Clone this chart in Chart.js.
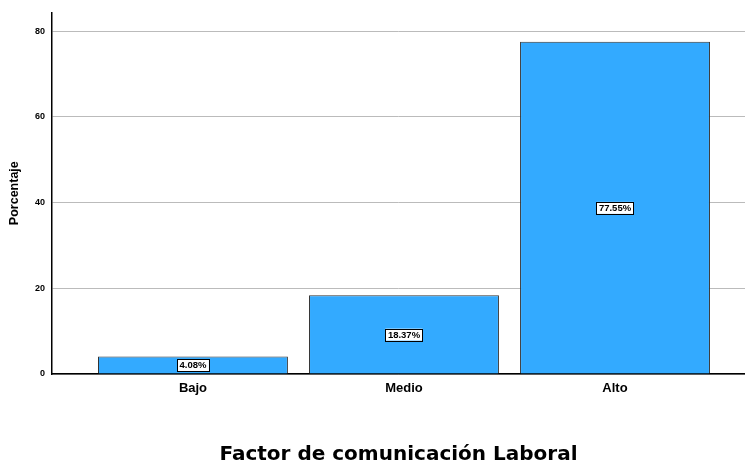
<!DOCTYPE html>
<html>
<head>
<meta charset="utf-8">
<script src="https://cdn.jsdelivr.net/npm/chart.js@4"></script>
<style>
  html, body { margin: 0; padding: 0; background: #fff; }
  #wrap { width: 745px; height: 467px; }
</style>
</head>
<body>
<div id="wrap"><canvas id="barChart" width="745" height="467"></canvas></div>
<script>
const categories = ['Bajo', 'Medio', 'Alto'];
const percentages = [4.08, 18.37, 77.55];
const yTicks = [0, 20, 40, 60, 80];

const barColor = '#33aaff';

// white boxed labels in the middle of each bar
const valueBoxes = {
    id: 'valueBoxes',
    afterDatasetsDraw(chart) {
        const ctx = chart.ctx;
        const yScale = chart.scales.y;
        const meta = chart.getDatasetMeta(0);
        ctx.save();
        ctx.font = 'bold 9.5px "Liberation Sans", Arial, sans-serif';
        ctx.textAlign = 'center';
        ctx.textBaseline = 'middle';
        meta.data.forEach((bar, i) => {
            const v = percentages[i];
            const text = v.toFixed(2) + '%';
            const cx = bar.x;
            const cy = yScale.getPixelForValue(v / 2);
            const w = ctx.measureText(text).width + 5;
            const h = 12;
            ctx.fillStyle = '#fff';
            ctx.fillRect(cx - w / 2, cy - h / 2, w, h);
            ctx.strokeStyle = '#000';
            ctx.lineWidth = 1;
            ctx.strokeRect(Math.round(cx - w / 2) + 0.5, Math.round(cy - h / 2) + 0.5, Math.round(w), h);
            ctx.fillStyle = '#000';
            ctx.fillText(text, cx, cy + 0.5);
        });
        ctx.restore();
    }
};

const ctx = document.getElementById('barChart').getContext('2d');
new Chart(ctx, {
    type: 'bar',
    data: {
        datasets: [{
            data: percentages.map((v, i) => ({ x: i + 1, y: v })),
            backgroundColor: barColor,
            borderColor: '#333',
            borderWidth: 1,
            categoryPercentage: 1,
            barPercentage: 0.9
        }]
    },
    options: {
        responsive: false,
        animation: false,
        layout: { padding: { top: 12, right: 0, left: 0, bottom: 0 } },
        plugins: {
            legend: { display: false },
            tooltip: { enabled: false }
        },
        scales: {
            x: {
                type: 'linear',
                offset: false,
                min: 0.332,
                max: 3.616,
                afterBuildTicks: scale => {
                    scale.ticks = categories.map((c, i) => ({ value: i + 1 }));
                },
                afterFit: scale => { scale.height = 93; },
                ticks: {
                    callback: (v) => categories[v - 1] || '',
                    color: '#000',
                    padding: 7,
                    font: { family: '"Liberation Sans", Arial, sans-serif', size: 13, weight: 'bold' },
                    maxRotation: 0,
                    autoSkip: false
                },
                grid: { display: false, drawTicks: false },
                border: { color: '#000', width: 1.5 },
                title: {
                    display: true,
                    text: 'Factor de comunicación Laboral',
                    color: '#000',
                    font: { family: '"DejaVu Sans", Tahoma, sans-serif', size: 20, weight: 'bold' },
                    padding: { top: 0, bottom: 0 }
                }
            },
            y: {
                min: 0,
                max: 84.4,
                afterBuildTicks: scale => {
                    scale.ticks = yTicks.map(v => ({ value: v }));
                },
                afterFit: scale => { scale.width = 52; },
                ticks: {
                    color: '#000',
                    padding: 7,
                    font: { family: '"Liberation Sans", Arial, sans-serif', size: 9, weight: 'bold' }
                },
                grid: { color: '#bbbbbb', drawTicks: false },
                border: { color: '#000', width: 1.5 },
                title: {
                    display: true,
                    text: 'Porcentaje',
                    color: '#000',
                    font: { family: '"Liberation Sans", Arial, sans-serif', size: 12.5, weight: 'bold' },
                    padding: { top: 7, bottom: 0 }
                }
            }
        }
    },
    plugins: [valueBoxes]
});
</script>
</body>
</html>
